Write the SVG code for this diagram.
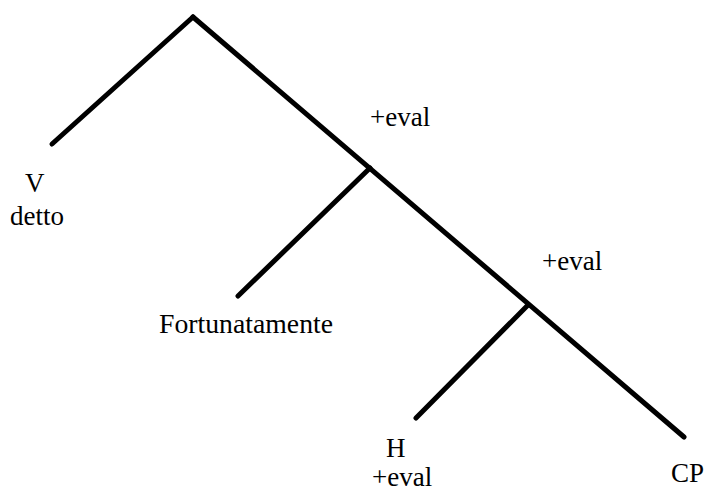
<svg xmlns="http://www.w3.org/2000/svg" width="707" height="491" viewBox="0 0 707 491">
<style>
.e{stroke:#000;stroke-width:5;stroke-linecap:round;fill:none}
text{font-family:"Liberation Serif","Times New Roman",serif;font-size:27px;fill:#000}
</style>
<rect width="707" height="491" fill="#fff"/>
<g id="connectors">
<line class="e" x1="193" y1="17" x2="52" y2="144"/>
<line class="e" x1="193" y1="17" x2="684" y2="437"/>
<line class="e" x1="370" y1="168" x2="238" y2="296"/>
<line class="e" x1="528" y1="305" x2="416" y2="418"/>
</g>
<g id="v"><text x="25" y="192">V</text><text x="10" y="225">detto</text></g>
<g id="eval1"><text x="370" y="126">+eval</text></g>
<g id="eval2"><text x="542" y="270">+eval</text></g>
<g id="fort"><text x="159" y="333" textLength="174" lengthAdjust="spacingAndGlyphs">Fortunatamente</text></g>
<g id="h"><text x="386" y="457">H</text><text x="372" y="486">+eval</text></g>
<g id="cp"><text x="671" y="482">CP</text></g>
</svg>
